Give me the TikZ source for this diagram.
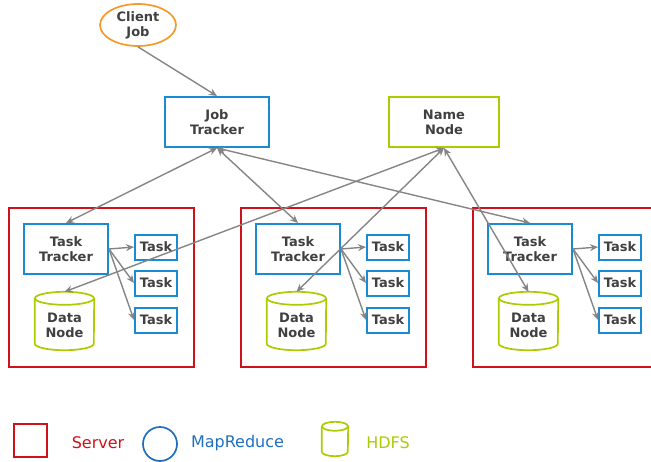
\documentclass[tikz,border=0pt]{standalone}
\usepackage{fontspec}
\setmainfont{DejaVu Sans}
\usetikzlibrary{arrows.meta,shapes.geometric,calc}
\definecolor{srv}{HTML}{D0101A}
\definecolor{mr}{HTML}{1A8AD4}
\definecolor{mrl}{HTML}{1E6FBE}
\definecolor{hdfs}{HTML}{AACC00}
\definecolor{cj}{HTML}{F59A2A}
\definecolor{txt}{HTML}{404040}
\definecolor{arr}{HTML}{858585}
\tikzset{
  lbl/.style={font=\fontsize{13}{15}\selectfont\bfseries, text=txt, align=center, inner sep=0pt},
  mrbox/.style={lbl, draw=mr, line width=2pt},
  ttbox/.style={mrbox, minimum width=84pt, minimum height=50pt},
  taskbox/.style={mrbox, minimum width=42pt, minimum height=25pt},
  serverbox/.style={draw=srv, line width=2pt},
  dnbox/.style={lbl, minimum width=59pt, minimum height=58pt},
  cylline/.style={draw=hdfs, line width=1.7pt},
  conn/.style={draw=arr, line width=1.4pt, -{Stealth[length=8pt,width=7pt]}},
  biconn/.style={draw=arr, line width=1.4pt, {Stealth[length=8pt,width=7pt]}-{Stealth[length=8pt,width=7pt]}},
  leg/.style={font=\fontsize{16}{18}\selectfont, inner sep=0pt}
}
\newcommand{\cylshape}[1]{%
  \draw[cylline] ($(#1.north west)+(0,-6.5pt)$) -- ($(#1.south west)+(0,6.5pt)$)
     arc[start angle=180,end angle=360,x radius=29.5pt,y radius=6.5pt]
     -- ($(#1.north east)+(0,-6.5pt)$);
  \draw[cylline] ($(#1.north)+(0,-6.5pt)$) ellipse[x radius=29.5pt,y radius=6.5pt];
}
\begin{document}
\begin{tikzpicture}[x=1pt,y=-1pt]
\useasboundingbox (0,0) rectangle (651,461);

% top nodes
\node[lbl, ellipse, draw=cj, line width=1.7pt, minimum width=76pt, minimum height=42pt] (cj) at (138,25) {Client\\Job};
\node[mrbox, minimum width=104pt, minimum height=50pt] (jt) at (217,122) {Job\\Tracker};
\node[lbl, draw=hdfs, line width=2pt, minimum width=110pt, minimum height=50pt] (nn) at (444,122) {Name\\Node};

% servers
\foreach \i/\dx in {1/0,2/232,3/464}{
  \draw[serverbox] (9+\dx,208) rectangle (194+\dx,367);
  \node[ttbox] (tt\i) at (66+\dx,249) {Task\\Tracker};
  \node[taskbox] (ta\i) at (156+\dx,247) {Task};
  \node[taskbox] (tb\i) at (156+\dx,283) {Task};
  \node[taskbox] (tc\i) at (156+\dx,320) {Task};
  \node[dnbox] (dn\i) at (64.5+\dx,321) {};
  \node[lbl] at (64.5+\dx,325) {Data\\Node};
  \cylshape{dn\i}
  \draw[conn] (tt\i.east) -- (ta\i.west);
  \draw[conn] (tt\i.east) -- (tb\i.west);
  \draw[conn] (tt\i.east) -- (tc\i.west);
}

% connectors
\draw[conn] (cj.south) -- (jt.north);
\foreach \i in {1,2,3}{
  \draw[biconn] (jt.south) -- (tt\i.north);
  \draw[biconn] (nn.south) -- (dn\i.north);
}

% legend
\draw[serverbox] (14,424) rectangle (47,457);
\node[leg, text=srv] (lserver) at (98,443) {Server};
\draw[draw=mrl, line width=1.7pt] (160,444) circle[radius=17pt];
\node[leg, text=mrl] (lmr) at (237.5,443) {MapReduce};
\node[minimum width=26pt, minimum height=34pt, inner sep=0pt] (lcyl) at (335,439) {};
\draw[cylline] ($(lcyl.north west)+(0,-4.5pt)$) -- ($(lcyl.south west)+(0,4.5pt)$)
     arc[start angle=180,end angle=360,x radius=13pt,y radius=4.5pt]
     -- ($(lcyl.north east)+(0,-4.5pt)$);
\draw[cylline] ($(lcyl.north)+(0,-4.5pt)$) ellipse[x radius=13pt,y radius=4.5pt];
\node[leg, text=hdfs] (lhdfs) at (388,443) {HDFS};
\end{tikzpicture}
\end{document}
